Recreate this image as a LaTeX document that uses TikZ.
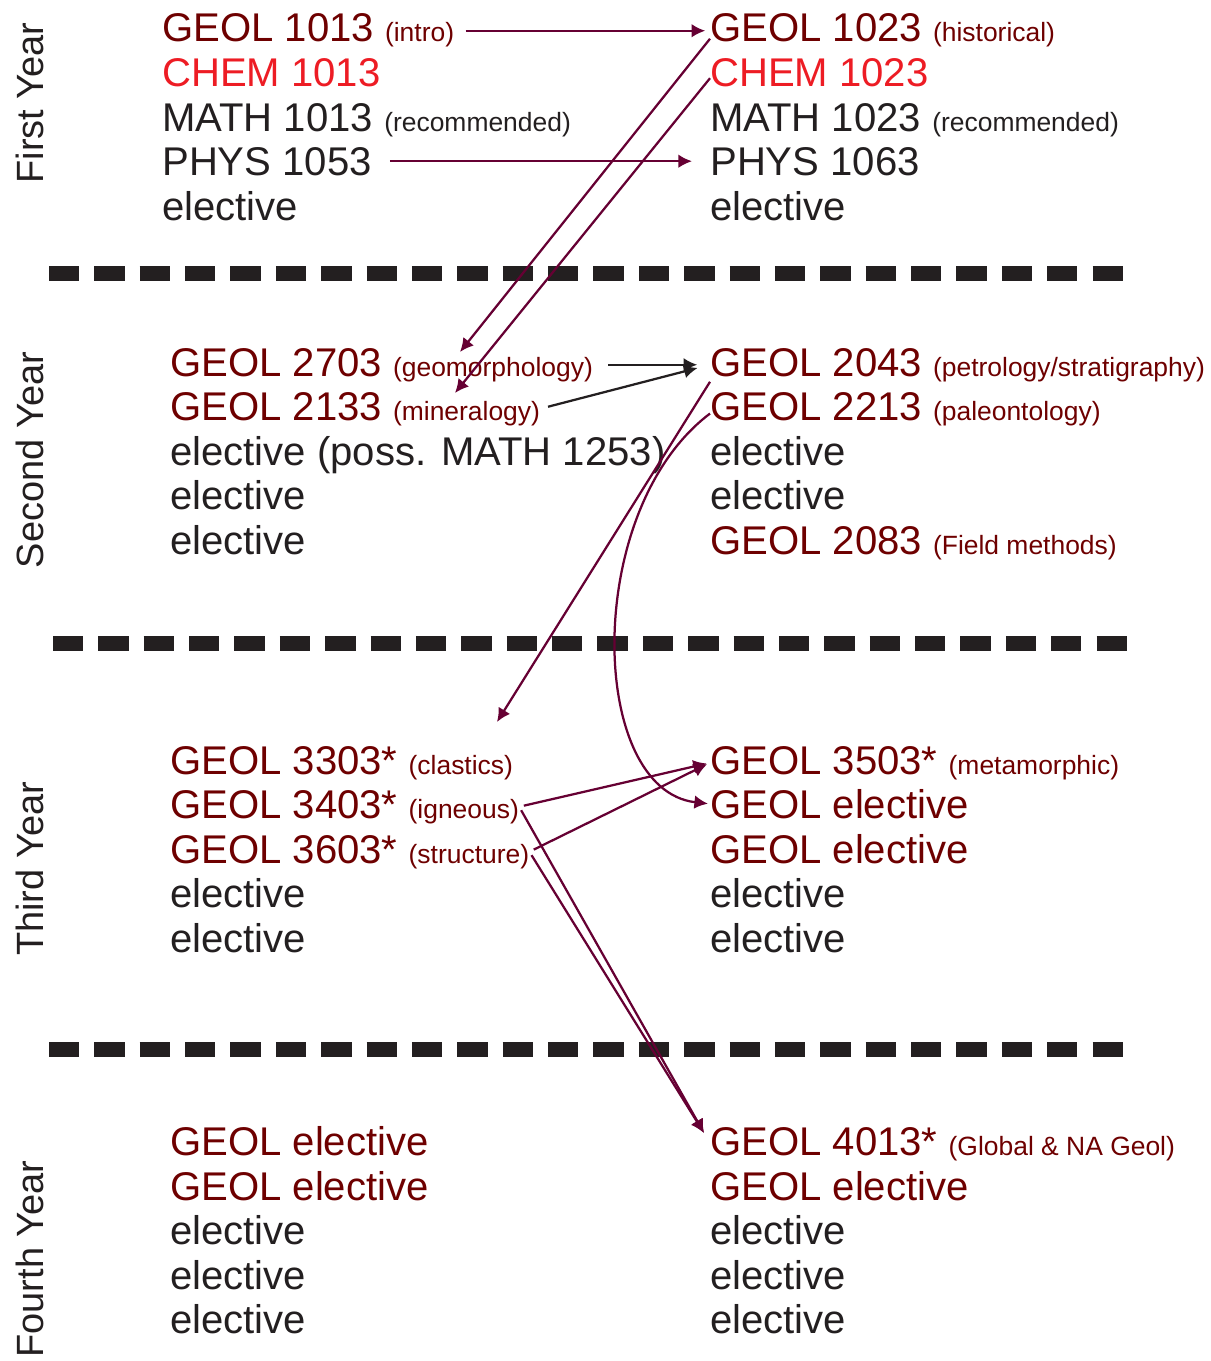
\documentclass[tikz,border=0pt]{standalone}
\usepackage{fontspec}
\setmainfont{Liberation Sans}
\usetikzlibrary{arrows.meta}

\definecolor{geolred}{RGB}{110,0,0}
\definecolor{chemred}{RGB}{237,28,36}
\definecolor{ink}{RGB}{35,31,32}
\definecolor{linkcol}{RGB}{102,0,51}

\newcommand{\note}[1]{{\fontsize{18.8}{22}\selectfont #1}}

\begin{document}
\begin{tikzpicture}[x=0.025cm,y=-0.025cm]
\tikzstyle{course} = [anchor=base west, inner sep=0pt, text=ink, font=\fontsize{28.5}{34}\selectfont]
\tikzstyle{geol} = [course, text=geolred]
\tikzstyle{chem} = [course, text=chemred]
\tikzstyle{yearlabel} = [anchor=base, rotate=90, inner sep=0pt, text=ink, font=\fontsize{27}{30}\selectfont]
\tikzstyle{divider} = [draw=ink, line width=0.375cm, dash pattern=on 0.757cm off 0.377cm]
\tikzstyle{link} = [draw=linkcol, line width=1.6pt, -{Latex[length=0.34cm,width=0.34cm]}]
\tikzstyle{blacklink} = [link, draw=ink]

\useasboundingbox (0,0) rectangle (1210,1361);

% year labels
\node (y1) [yearlabel] at (44,103) {First Year};
\node (y2) [yearlabel] at (44,460) {Second Year};
\node (y3) [yearlabel] at (44,869) {Third Year};
\node (y4) [yearlabel] at (44,1259) {Fourth Year};

% first year
\node (geol1013) [geol] at (162,42) {GEOL 1013 \note{(intro)}};
\node (chem1013) [chem] at (162,86) {CHEM 1013};
\node (math1013) [course] at (162,131) {MATH 1013 \note{(recommended)}};
\node (phys1053) [course] at (162,175) {PHYS 1053};
\node (elec1a) [course] at (162,220) {elective};

\node (geol1023) [geol] at (710,42) {GEOL 1023 \note{(historical)}};
\node (chem1023) [chem] at (710,86) {CHEM 1023};
\node (math1023) [course] at (710,131) {MATH 1023 \note{(recommended)}};
\node (phys1063) [course] at (710,175) {PHYS 1063};
\node (elec1b) [course] at (710,220) {elective};

% second year
\node (geol2703) [geol] at (170,376) {GEOL 2703 \note{(geomorphology)}};
\node (geol2133) [geol] at (170,420) {GEOL 2133 \note{(mineralogy)}};
\node (elec2a) [course] at (170,465) {elective (poss. MATH 1253)};
\node (elec2b) [course] at (170,509) {elective};
\node (elec2c) [course] at (170,554) {elective};

\node (geol2043) [geol] at (710,376) {GEOL 2043 \note{(petrology/stratigraphy)}};
\node (geol2213) [geol] at (710,420) {GEOL 2213 \note{(paleontology)}};
\node (elec2d) [course] at (710,465) {elective};
\node (elec2e) [course] at (710,509) {elective};
\node (geol2083) [geol] at (710,554) {GEOL 2083 \note{(Field methods)}};

% third year
\node (geol3303) [geol] at (170,774) {GEOL 3303* \note{(clastics)}};
\node (geol3403) [geol] at (170,818) {GEOL 3403* \note{(igneous)}};
\node (geol3603) [geol] at (170,863) {GEOL 3603* \note{(structure)}};
\node (elec3a) [course] at (170,907) {elective};
\node (elec3b) [course] at (170,952) {elective};

\node (geol3503) [geol] at (710,774) {GEOL 3503* \note{(metamorphic)}};
\node (gelec3a) [geol] at (710,818) {GEOL elective};
\node (gelec3b) [geol] at (710,863) {GEOL elective};
\node (elec3c) [course] at (710,907) {elective};
\node (elec3d) [course] at (710,952) {elective};

% fourth year
\node (gelec4a) [geol] at (170,1155) {GEOL elective};
\node (gelec4b) [geol] at (170,1200) {GEOL elective};
\node (elec4a) [course] at (170,1244) {elective};
\node (elec4b) [course] at (170,1289) {elective};
\node (elec4c) [course] at (170,1333) {elective};

\node (geol4013) [geol] at (710,1155) {GEOL 4013* \note{(Global \& NA Geol)}};
\node (gelec4c) [geol] at (710,1200) {GEOL elective};
\node (elec4d) [course] at (710,1244) {elective};
\node (elec4e) [course] at (710,1289) {elective};
\node (elec4f) [course] at (710,1333) {elective};

% year dividers
\draw [divider] (49,273) -- (1123,273);
\draw [divider] (53,643) -- (1127,643);
\draw [divider] (49,1049) -- (1123,1049);

% loose arrow ends
\coordinate (to2703) at (460,352);
\coordinate (to2133) at (455,393);
\coordinate (to3303) at (497,722);
\coordinate (to4013) at (704,1133);

% prerequisites
\draw [link, shorten <=0.28cm, shorten >=0.12cm] (geol1013.east) -- (geol1023.west);
\draw [link, shorten <=0.45cm, shorten >=0.45cm] (phys1053.east) -- (phys1063.west);
\draw [link] ([yshift=-0.2cm]geol1023.west) -- (to2703);
\draw [link] ([yshift=-0.15cm]chem1023.west) -- (to2133);
\draw [link] (geol2043.south west) -- (to3303);
\draw [link] ([yshift=-0.12cm]geol2213.west) .. controls (582,510) and (588,790) .. ([xshift=-0.05cm]gelec3a.west);
\draw [link, shorten <=0.12cm, shorten >=0.08cm] (geol3403.east) -- (geol3503.west);
\draw [link, shorten <=0.12cm, shorten >=0.08cm] (geol3603.east) -- (geol3503.west);
\draw [link, shorten <=0.1cm] (geol3403.east) -- (to4013);
\draw [link, shorten <=0.1cm] (geol3603.east) -- (to4013);
\draw [blacklink, shorten <=0.38cm, shorten >=0.32cm] (geol2703.east) -- (geol2043.west);
\draw [blacklink, shorten <=0.2cm, shorten >=0.32cm] (geol2133.east) -- (geol2043.west);
\end{tikzpicture}
\end{document}
